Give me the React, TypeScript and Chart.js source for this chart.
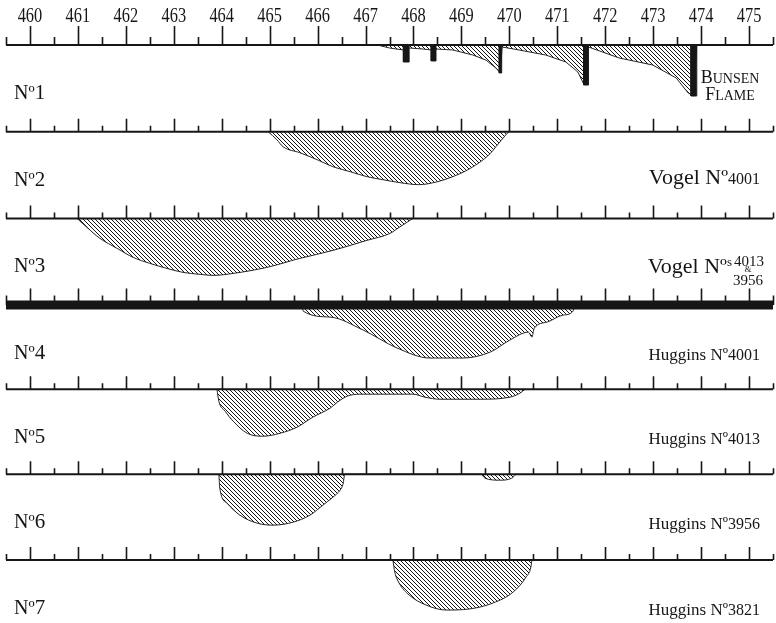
import React, { useEffect, useRef } from 'react';
import { Chart, registerables } from 'chart.js';

Chart.register(...registerables);

// Wavelength scale (tick labels along the top ruler)
const tickLabels = ['460', '461', '462', '463', '464', '465', '466', '467', '468', '469', '470', '471', '472', '473', '474', '475'];
const rulerStart = 459.5;
const rulerEnd = 475.5;

// Strip names and sources
const stripNames = ['Nº1', 'Nº2', 'Nº3', 'Nº4', 'Nº5', 'Nº6', 'Nº7'];
const sources = ['Bunsen Flame', 'Vogel Nº4001', 'Vogel Nºs 4013 & 3956', 'Huggins Nº4001', 'Huggins Nº4013', 'Huggins Nº3956', 'Huggins Nº3821'];
// Base level of each strip (depth units)
const rulerLevels = [0, 101, 202, 303, 401, 500, 600];

// No.1 Bunsen flame — hatched shading
const band1Wl = [467.25, 467.5, 467.79, 467.92, 468.2, 468.37, 468.47, 468.82, 469.24, 469.51, 469.72, 469.81, 469.85, 470.2, 470.76, 471.18, 471.43, 471.55, 471.65, 472.29, 472.99, 473.48, 473.73, 473.85, 473.91];
const band1Depth = [0, 3.5, 5.8, 3.5, 4.7, 5.8, 4.7, 5.8, 11.7, 17.5, 26.8, 32.6, 2.3, 5.8, 11.7, 19.8, 31.5, 45.4, 2.3, 15.1, 23.3, 38.4, 55.9, 59.4, 0];
// No.1 Bunsen flame — dark lines
const bunsenFrom = [467.79, 468.37, 469.79, 471.55, 473.79];
const bunsenTo = [467.91, 468.47, 469.84, 471.65, 473.91];
const bunsenDepth = [19.8, 18.6, 32.6, 46.6, 59.4];

// No.2 Vogel 4001
const band2Wl = [464.97, 465.15, 465.28, 465.63, 465.99, 466.32, 466.68, 467.03, 467.36, 467.72, 468.11, 468.5, 468.82, 469.1, 469.37, 469.6, 469.72, 469.93, 469.99];
const band2Depth = [0, 9.3, 17.5, 24.5, 32.6, 40.8, 46.6, 52.4, 55.9, 59.4, 61.7, 58.3, 52.4, 45.4, 36.1, 25.6, 17.5, 3.5, 0];

// No.3 Vogel 4013 & 3956
const band3Wl = [460.98, 461.19, 461.46, 461.82, 462.15, 462.5, 462.86, 463.19, 463.55, 463.82, 464.24, 464.94, 465.63, 466.32, 467.03, 467.51, 467.7, 467.99];
const band3Depth = [0, 10.5, 23.3, 35, 45.4, 52.4, 58.3, 62.9, 65.2, 66.4, 64.1, 57.1, 46.6, 37.3, 25.6, 17.5, 10.5, 0];

// No.4 Huggins 4001
const band4Wl = [465.68, 465.7, 466.26, 466.95, 467.66, 468.34, 469.03, 469.6, 470.01, 470.4, 470.47, 470.52, 470.79, 471.12, 471.33, 471.35];
const band4Depth = [0, 7, 14, 29.1, 50.1, 61.7, 61.7, 54.8, 40.8, 31.5, 37.3, 27, 19.8, 11.7, 7, 0];

// No.5 Huggins 4013
const band5Wl = [463.9, 463.94, 464.07, 464.24, 464.53, 464.86, 465.22, 465.57, 465.9, 466.26, 466.47, 466.68, 466.95, 467.99, 468.24, 468.55, 469.39, 470.01, 470.22, 470.33];
const band5Depth = [0, 14, 25.6, 37.3, 51.3, 54.8, 51.3, 44.3, 32.6, 22.1, 12.8, 7, 5.8, 5.8, 9.3, 11.7, 11.7, 9.3, 4.7, 0];

// No.6 Huggins 3956
const band6Wl = [463.94, 463.96, 464.11, 464.38, 464.74, 465.07, 465.49, 465.84, 466.11, 466.32, 466.47, 466.53, 466.57, 469.41, 469.49, 469.8, 470.05, 470.14];
const band6Depth = [0, 16.3, 33.8, 47.8, 57.1, 59.4, 55.9, 47.8, 36.1, 26.8, 18.6, 11.7, 0, 0, 4.7, 7, 4.7, 0];

// No.7 Huggins 3821
const band7Wl = [467.57, 467.61, 467.7, 467.91, 468.26, 468.68, 469.16, 469.66, 470.08, 470.35, 470.45, 470.47];
const band7Depth = [0, 14, 26.8, 40.8, 52.4, 58.3, 57.1, 50.1, 37.3, 19.8, 8.2, 0];

const bandWl = [band1Wl, band2Wl, band3Wl, band4Wl, band5Wl, band6Wl, band7Wl];
const bandDepth = [band1Depth, band2Depth, band3Depth, band4Depth, band5Depth, band6Depth, band7Depth];

const INK = '#161616';
const SERIF = '"Liberation Serif", "DejaVu Serif", serif';

type Seg = { t: string; s: number; dy?: number };

function segWidth(ctx: CanvasRenderingContext2D, segs: Seg[]) {
  let w = 0;
  segs.forEach((g) => {
    ctx.font = `${g.s}px ${SERIF}`;
    w += ctx.measureText(g.t).width;
  });
  return w;
}

function drawSegs(ctx: CanvasRenderingContext2D, segs: Seg[], x: number, y: number) {
  let cx = x;
  segs.forEach((g) => {
    ctx.font = `${g.s}px ${SERIF}`;
    ctx.fillText(g.t, cx, y + (g.dy || 0));
    cx += ctx.measureText(g.t).width;
  });
}

const decorPlugin = {
  id: 'decor',
  afterDatasetsDraw(chart: any) {
    const { ctx } = chart;
    const xs = chart.scales.x;
    const ys = chart.scales.y;
    ctx.save();
    ctx.strokeStyle = INK;
    ctx.fillStyle = INK;
    ctx.lineWidth = 1.6;
    const majors = tickLabels.map(Number);
    const minors = majors.map((v) => v - 0.5).concat([rulerEnd]);
    rulerLevels.forEach((lv, i) => {
      const py = ys.getPixelForValue(lv);
      const half = i === 3 ? 4.5 : 1;
      const majH = i === 0 ? 18 : 12;
      const minH = i === 0 ? 7 : 5;
      ctx.beginPath();
      majors.forEach((v) => {
        const px = Math.round(xs.getPixelForValue(v)) + 0.5;
        ctx.moveTo(px, py);
        ctx.lineTo(px, py - half - majH);
      });
      minors.forEach((v) => {
        const px = Math.round(xs.getPixelForValue(v)) + 0.5;
        ctx.moveTo(px, py);
        ctx.lineTo(px, py - half - minH);
      });
      ctx.stroke();
    });

    // wavelength labels (slightly condensed)
    ctx.textAlign = 'center';
    ctx.textBaseline = 'alphabetic';
    ctx.font = `20px ${SERIF}`;
    const top = ys.getPixelForValue(rulerLevels[0]);
    tickLabels.forEach((t) => {
      const px = xs.getPixelForValue(Number(t));
      ctx.save();
      ctx.translate(px, top - 23);
      ctx.scale(0.82, 1);
      ctx.fillText(t, 0, 0);
      ctx.restore();
    });

    // strip names
    ctx.textAlign = 'left';
    stripNames.forEach((n, i) => {
      const py = ys.getPixelForValue(rulerLevels[i]) + 54;
      const m = n.match(/^(Nº)(\d+)$/);
      drawSegs(ctx, [{ t: m ? m[1] : n, s: 20 }, { t: m ? m[2] : '', s: 21 }], 14, py);
    });

    // sources
    const right = 760;
    sources.forEach((src, i) => {
      const base = ys.getPixelForValue(rulerLevels[i]);
      if (i === 0) {
        const words = src.toUpperCase().split(' ');
        const cxm = 730;
        [base + 38, base + 55].forEach((by, k) => {
          const w = words[k];
          const segs: Seg[] = [{ t: w[0], s: 18 }, { t: w.slice(1), s: 14 }];
          const tw = segWidth(ctx, segs);
          drawSegs(ctx, segs, cxm - tw / 2, by);
        });
        return;
      }
      if (src.includes('&')) {
        const m = src.match(/^(.*Nº)(s) (\d+) & (\d+)$/);
        if (!m) return;
        const by = base + 55;
        const numW = (() => { ctx.font = `15px ${SERIF}`; return ctx.measureText(m[4]).width; })();
        const headSegs: Seg[] = [{ t: m[1], s: 22 }, { t: m[2], s: 13, dy: -7 }];
        const hw = segWidth(ctx, headSegs);
        const nx = right + 3 - numW;
        drawSegs(ctx, headSegs, nx - hw - 1, by);
        ctx.font = `15px ${SERIF}`;
        ctx.fillText(m[3], nx + 1, by - 7);
        ctx.fillText(m[4], nx, by + 12);
        ctx.font = `9px ${SERIF}`;
        ctx.textAlign = 'center';
        ctx.fillText('&', nx + numW / 2, by - 1);
        ctx.textAlign = 'left';
        return;
      }
      const m = src.match(/^(.*Nº)(\d+)$/);
      if (!m) return;
      const big = src.startsWith('Vogel');
      const segs: Seg[] = big
        ? [{ t: m[1], s: 22 }, { t: m[2], s: 16 }]
        : [{ t: m[1], s: 17 }, { t: m[2], s: 16 }];
      const tw = segWidth(ctx, segs);
      drawSegs(ctx, segs, right - tw, base + (big ? 52 : 55));
    });
    ctx.restore();
  },
};

export default function App() {
  const ref = useRef<HTMLCanvasElement | null>(null);

  useEffect(() => {
    const canvas = ref.current;
    if (!canvas) return;
    const c2d = canvas.getContext('2d');
    if (!c2d) return;

    const pc = document.createElement('canvas');
    pc.width = 4;
    pc.height = 4;
    const p = pc.getContext('2d')!;
    p.strokeStyle = '#141414';
    p.lineWidth = 1;
    p.beginPath();
    p.moveTo(-1, -1);
    p.lineTo(5, 5);
    p.moveTo(-1, 3);
    p.lineTo(1, 5);
    p.moveTo(3, -1);
    p.lineTo(5, 1);
    p.stroke();
    const hatch = c2d.createPattern(pc, 'repeat');

    const datasets: any[] = [];
    // rulers
    rulerLevels.forEach((lv, i) => {
      datasets.push({
        label: `ruler ${stripNames[i]}`,
        data: [{ x: rulerStart, y: lv }, { x: rulerEnd, y: lv }],
        borderColor: INK,
        borderWidth: i === 3 ? 9 : 2,
        pointRadius: 0,
        fill: false,
        order: 0,
      });
    });
    // bands
    bandWl.forEach((wl, i) => {
      const lv = rulerLevels[i];
      datasets.push({
        label: sources[i],
        data: wl.map((w, k) => ({ x: w, y: lv + bandDepth[i][k] })),
        borderColor: '#262626',
        borderWidth: 1,
        backgroundColor: hatch,
        pointRadius: 0,
        fill: { value: lv },
        tension: 0,
        cubicInterpolationMode: i === 0 ? 'default' : 'monotone',
        order: 2,
      });
    });
    // Bunsen dark lines
    bunsenFrom.forEach((f, k) => {
      const lv = rulerLevels[0];
      datasets.push({
        label: `line ${k}`,
        data: [
          { x: f, y: lv },
          { x: f, y: lv + bunsenDepth[k] },
          { x: bunsenTo[k], y: lv + bunsenDepth[k] },
          { x: bunsenTo[k], y: lv },
        ],
        borderColor: INK,
        borderWidth: 1,
        backgroundColor: INK,
        pointRadius: 0,
        fill: { value: lv },
        order: 1,
      });
    });

    const chart = new Chart(c2d, {
      type: 'line',
      data: { datasets },
      options: {
        animation: false,
        responsive: true,
        maintainAspectRatio: false,
        devicePixelRatio: 1,
        layout: { padding: { left: 6, right: 3, top: 0, bottom: 0 } },
        plugins: { legend: { display: false }, tooltip: { enabled: false } },
        events: [],
        scales: {
          x: { type: 'linear', min: rulerStart, max: rulerEnd, display: false },
          y: { type: 'linear', min: -52.43, max: 673.4, reverse: true, display: false },
        },
      } as any,
      plugins: [decorPlugin as any],
    });
    return () => chart.destroy();
  }, []);

  return (
    <div style={{ position: 'fixed', left: 0, top: 0, width: 776, height: 623, background: '#fff' }}>
      <canvas ref={ref} />
    </div>
  );
}
